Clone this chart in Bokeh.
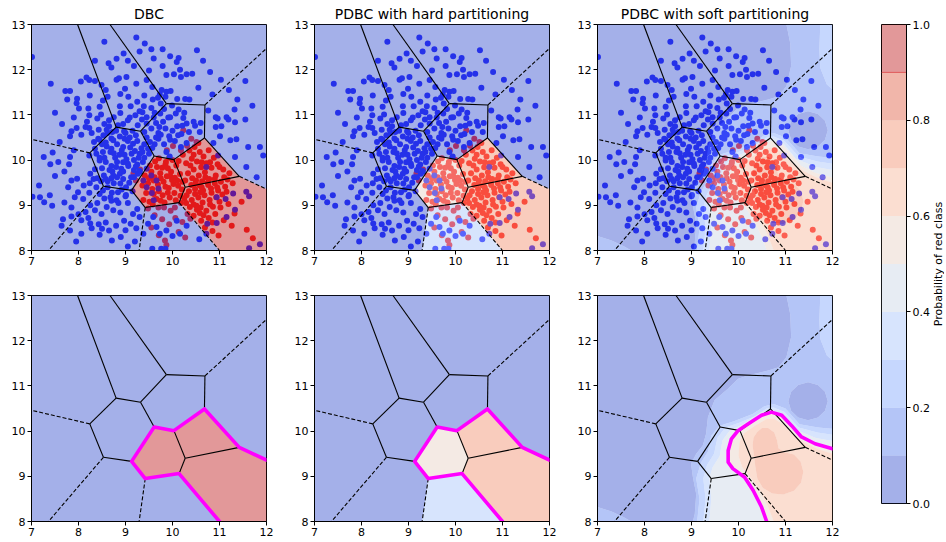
import math
from bokeh.plotting import figure
from bokeh.layouts import row, column
from bokeh.models import FixedTicker, Range1d, NumeralTickFormatter
from bokeh.core.properties import value
from bokeh.embed import file_html
from bokeh.resources import INLINE

# ------------------------------------------------------------------ data
titles = ["DBC", "PDBC with hard partitioning", "PDBC with soft partitioning"]
x_ticks = [7, 8, 9, 10, 11, 12]
y_ticks = [8, 9, 10, 11, 12, 13]
cb_ticks = [0.0, 0.2, 0.4, 0.6, 0.8, 1.0]
levels = [0.0, 0.1, 0.2, 0.3, 0.4, 0.5, 0.6, 0.7, 0.8, 0.9, 1.0]
band_colors = ["#4962d3", "#6a8cf0", "#8db0fe", "#b0cafc", "#cfd9e8",
               "#e9d5ca", "#f7bda3", "#f49a7b", "#e46d56", "#c53133"]
cb_label = "Probability of red class"

# Voronoi vertices (and where edges meet the plot border)
vert_names = ["V1", "V2", "V3", "V4", "V5", "V6", "V7", "V8", "V9", "V10", "V11", "V12", "V13", "V14",
              "T1", "T2", "R1", "R2", "L1", "B1", "B2", "B3", "TL", "TR", "BR", "BL"]
vert_x = [8.80, 9.32, 9.87, 10.69, 10.68, 10.03, 9.61, 8.24, 8.53, 9.13, 9.42, 10.14, 10.27, 11.42,
          7.98, 8.67, 12.0, 12.0, 7.0, 7.36, 9.29, 11.0, 7.0, 12.0, 12.0, 7.0]
vert_y = [10.73, 10.64, 11.25, 11.22, 10.49, 10.01, 10.09, 10.16, 9.42, 9.33, 8.95, 9.06, 9.40, 9.64,
          13.0, 13.0, 12.47, 9.36, 10.46, 8.0, 8.0, 8.0, 13.0, 13.0, 8.0, 8.0]

edges_solid = [("T1", "V1"), ("T2", "V3"), ("V1", "V2"), ("V2", "V3"), ("V3", "V4"), ("V4", "V5"),
               ("V2", "V7"), ("V1", "V8"), ("V8", "V9"), ("V9", "V10"), ("V10", "V7"), ("V10", "V11"),
               ("V11", "V12"), ("V12", "V13"), ("V13", "V6"), ("V6", "V7"), ("V6", "V5"),
               ("V5", "V14"), ("V13", "V14")]
edges_dashed = [("V4", "R1"), ("V8", "L1"), ("V9", "B1"), ("V11", "B2"), ("V12", "B3"), ("V14", "R2")]

cells = [["TL", "T1", "V1", "V8", "L1"],
         ["T1", "T2", "V3", "V2", "V1"],
         ["T2", "TR", "R1", "V4", "V3"],
         ["V4", "R1", "R2", "V14", "V5"],
         ["V3", "V4", "V5", "V6", "V7", "V2"],
         ["V1", "V2", "V7", "V10", "V9", "V8"],
         ["L1", "V8", "V9", "B1", "BL"],
         ["V9", "V10", "V11", "B2", "B1"],
         ["V11", "V12", "B3", "B2"],
         ["V7", "V6", "V13", "V12", "V11", "V10"],
         ["V6", "V5", "V14", "V13"],
         ["V13", "V14", "R2", "BR", "B3", "V12"]]
prob_dbc = [0.0, 0.0, 0.0, 0.0, 0.0, 0.0, 0.0, 0.0, 0.0, 1.0, 1.0, 1.0]
prob_hard = [0.05, 0.05, 0.05, 0.05, 0.05, 0.05, 0.05, 0.05, 0.35, 0.55, 0.75, 0.75]
boundary_path = ["R2", "V14", "V5", "V6", "V7", "V10", "V11", "V12", "B3"]

# soft partitioning: regions where probability >= level
plot_rect = [(7.0, 8.0), (12.0, 8.0), (12.0, 13.0), (7.0, 13.0)]
soft_r1_main = [(9.03, 8.0), (9.07, 8.17), (9.10, 8.61), (9.03, 8.98), (8.99, 9.28), (9.10, 9.50),
                (9.24, 9.68), (9.31, 9.94), (9.35, 10.31), (9.49, 10.68), (9.78, 10.94), (9.99, 11.16),
                (10.20, 11.23), (10.63, 11.34), (10.85, 11.41), (11.02, 11.64), (11.12, 12.08),
                (11.10, 12.59), (11.02, 13.0), (12.0, 13.0), (12.0, 8.0)]
soft_r1_corner = [(7.0, 8.0), (7.0, 8.32), (7.30, 8.22), (7.55, 8.10), (7.72, 8.0)]
soft_r1_hole = [(11.90, 10.66), (11.84, 10.87), (11.69, 11.02), (11.48, 11.08), (11.27, 11.02),
                (11.12, 10.87), (11.06, 10.66), (11.12, 10.45), (11.27, 10.30), (11.48, 10.24),
                (11.69, 10.30), (11.84, 10.45)]
soft_r2_top = [(11.74, 13.0), (11.72, 12.45), (11.74, 12.04), (11.88, 11.67), (12.0, 11.56), (12.0, 13.0)]
soft_r2_low = [(9.12, 8.0), (9.17, 8.5), (9.10, 8.95), (9.20, 9.30), (9.35, 9.55), (9.42, 9.90),
               (9.60, 10.12), (9.90, 10.22), (10.30, 10.38), (10.55, 10.55), (10.75, 10.60),
               (11.00, 10.50), (11.30, 10.15), (11.70, 10.08), (12.0, 10.05), (12.0, 8.0)]
soft_r3 = [(9.25, 8.0), (9.30, 8.5), (9.25, 8.95), (9.33, 9.25), (9.48, 9.50), (9.55, 9.85),
           (9.72, 10.08), (10.00, 10.18), (10.35, 10.33), (10.60, 10.50), (10.75, 10.52),
           (10.98, 10.42), (11.28, 10.08), (11.68, 9.97), (12.0, 9.92), (12.0, 8.0)]
soft_r4 = [(9.38, 8.0), (9.42, 8.5), (9.38, 8.95), (9.45, 9.20), (9.60, 9.45), (9.66, 9.80),
           (9.82, 10.02), (10.10, 10.15), (10.45, 10.40), (10.70, 10.48), (10.95, 10.38),
           (11.22, 10.03), (11.65, 9.85), (12.0, 9.78), (12.0, 8.0)]
soft_r5 = [(10.60, 8.0), (10.49, 8.32), (10.31, 8.69), (10.13, 8.98), (9.88, 9.17), (9.78, 9.31),
           (9.78, 9.57), (9.85, 9.83), (9.99, 10.01), (10.21, 10.16), (10.49, 10.35), (10.70, 10.42),
           (10.92, 10.35), (11.13, 10.12), (11.34, 9.87), (11.63, 9.72), (12.0, 9.61), (12.0, 8.0)]
soft_r6 = [(10.75, 8.0), (10.62, 8.35), (10.45, 8.70), (10.25, 8.98), (10.08, 9.20), (10.00, 9.45),
           (10.02, 9.75), (10.12, 9.95), (10.35, 10.12), (10.60, 10.27), (10.75, 10.28),
           (10.95, 10.15), (11.15, 9.93), (11.40, 9.75), (11.70, 9.60), (12.0, 9.50), (12.0, 8.0)]
soft_r7 = [(10.40, 9.98), (10.50, 10.07), (10.63, 10.07), (10.76, 9.97), (10.82, 9.80), (10.85, 9.62),
           (10.98, 9.53), (11.18, 9.48), (11.32, 9.33), (11.38, 9.10), (11.33, 8.86), (11.18, 8.68),
           (10.95, 8.60), (10.72, 8.62), (10.52, 8.74), (10.40, 8.95), (10.36, 9.20), (10.33, 9.45),
           (10.30, 9.68), (10.32, 9.86)]

# training points: blue class
blue_x = [7.01, 9.23, 9.41, 8.55, 9.55, 9.79, 10.52, 8.96, 8.81, 10.13, 10.09, 8.64, 9.18, 9.79, 10.16,
          9.50, 9.87, 10.03, 10.30, 10.42, 10.18, 11.03, 11.55, 8.86, 8.81, 9.02, 8.17, 8.05, 8.23, 8.35,
          7.41, 7.72, 7.82, 8.49, 8.58, 8.99, 9.23, 9.45, 9.57, 9.77, 9.87, 9.96, 9.73, 9.40, 8.89,
          9.06, 8.62, 8.24, 7.97, 7.76, 7.96, 8.01, 8.21, 8.45, 8.52, 8.88, 9.11, 9.25, 9.39, 9.58,
          9.69, 10.10, 10.27, 10.36, 9.99, 10.13, 9.82, 9.74, 9.60, 9.36, 9.21, 9.09, 8.89, 8.65, 8.48,
          8.40, 8.23, 8.18, 7.90, 8.15, 7.96, 7.85, 7.82, 8.06, 8.23, 8.28, 8.43, 8.60, 8.65, 8.84,
          8.97, 9.05, 9.26, 9.45, 9.65, 9.72, 9.91, 10.07, 10.23, 10.30, 10.21, 10.48, 10.60, 10.58,
          10.76, 10.92, 10.96, 11.15, 11.04, 11.33, 11.38, 11.32, 11.19, 11.36, 11.01, 11.23, 10.92,
          7.45, 7.90, 7.82, 7.40, 7.57, 7.80, 8.23, 8.33, 8.42, 8.53, 8.58, 8.72, 8.74, 8.82, 8.95,
          8.98, 9.09, 9.16, 9.34, 9.45, 9.52, 9.57, 9.70, 9.75, 9.82, 9.93, 10.05, 10.19, 10.30, 10.18,
          9.87, 9.94, 9.50, 9.30, 9.13, 8.87, 8.68, 8.52, 8.38, 8.45, 8.58, 8.70, 8.82, 8.91, 9.06,
          9.22, 9.37, 9.45, 9.30, 9.12, 8.88, 8.74, 8.54, 8.48, 8.62, 8.75, 8.89, 9.01, 9.15, 9.01,
          8.84, 8.71, 8.52, 8.38, 8.24, 8.11, 7.97, 7.78, 7.85, 7.99, 8.23, 8.10, 7.92, 7.70, 7.44,
          7.39, 7.16, 7.18, 7.67, 8.06, 8.21, 8.28, 8.06, 7.82, 7.64, 8.43, 8.58, 8.65, 8.45, 8.71,
          9.05, 9.23, 9.38, 9.48, 9.59, 9.66, 9.73, 9.87, 10.00, 10.16, 10.09, 10.30, 10.57, 10.72,
          9.57, 9.76, 9.85, 9.16, 8.89, 8.74, 8.60, 8.49, 8.35, 8.81, 8.97, 9.11, 9.30, 7.02, 7.26, 7.27,
          11.57, 11.93, 11.79, 11.33, 11.86, 10.87, 11.61,
          9.55, 9.66, 9.45, 9.56, 9.70, 9.38, 9.30, 9.60, 10.94, 11.13, 11.29, 11.57, 11.63, 11.33,
          11.15, 10.94, 10.74, 11.63, 11.86, 10.97, 10.72,
          8.60, 8.70, 8.78, 8.92, 9.02, 9.10, 9.20, 9.28, 9.05, 8.95, 8.80, 8.66, 8.58, 8.70, 8.95,
          9.18, 9.25, 9.40, 9.48, 9.62, 9.70, 9.85, 10.00, 10.10, 9.55, 9.40, 9.25, 9.05, 8.88, 8.70,
          9.95, 10.12, 10.35, 10.45, 10.25, 9.95, 9.80, 9.62, 9.45, 9.30, 8.50, 8.45, 8.35, 8.25, 8.40,
          9.18, 9.00, 8.85, 8.70, 8.55, 8.40, 8.25, 8.15, 8.00, 7.85,
          8.35, 8.70, 9.05, 9.30, 9.60, 9.95, 10.65, 10.80, 10.55, 10.85, 11.20, 11.70, 11.55, 7.50,
          7.65, 7.60, 7.50, 7.70, 7.85, 7.95, 8.90, 9.20,
          8.55, 8.75, 8.95, 9.15, 9.35, 9.55, 9.75, 9.85, 9.65, 9.40, 9.22, 9.00, 8.80, 8.62, 8.45,
          8.35, 8.55, 8.75, 8.98, 9.18, 9.36, 8.95, 8.72, 8.50, 8.32, 8.62, 8.82, 9.08, 9.26, 8.92,
          8.68, 8.45, 9.05, 9.25, 8.25, 8.50, 8.80, 9.00]
blue_y = [12.28, 12.71, 12.58, 12.62, 12.45, 12.45, 12.43, 12.36, 12.24, 12.26, 12.17, 12.14, 12.08, 12.08, 12.00,
          11.98, 11.88, 11.90, 11.90, 11.91, 11.84, 11.78, 11.75, 11.81, 11.78, 11.84, 11.83, 11.74, 11.77, 11.75,
          11.69, 11.53, 11.53, 11.66, 11.55, 11.58, 11.69, 11.77, 11.62, 11.55, 11.51, 11.53, 11.45, 11.43, 11.46,
          11.40, 11.40, 11.43, 11.36, 11.34, 11.26, 11.14, 11.14, 11.18, 11.32, 11.19, 11.19, 11.29, 11.19, 11.34,
          11.38, 11.35, 11.35, 11.34, 11.21, 11.12, 11.13, 11.03, 10.94, 11.06, 10.99, 10.94, 11.04, 10.88, 11.01,
          10.92, 10.99, 10.85, 10.94, 10.73, 10.71, 10.64, 10.53, 10.56, 10.71, 10.60, 10.67, 10.67, 10.75, 10.77,
          10.64, 10.88, 10.77, 10.81, 10.82, 10.73, 10.94, 11.03, 10.93, 10.81, 10.76, 10.76, 10.82, 10.62,
          11.10, 10.95, 10.92, 10.95, 10.75, 10.84, 11.34, 11.12, 10.90, 10.46, 10.53, 10.44, 10.73,
          10.17, 10.22, 10.07, 9.91, 9.96, 9.91, 10.10, 10.40, 10.47, 10.55, 10.39, 10.62, 10.44, 10.35, 10.29,
          10.47, 10.50, 10.36, 10.26, 10.50, 10.40, 10.27, 10.47, 10.56, 10.35, 10.53, 10.42, 10.58, 10.38, 10.29,
          10.18, 10.08, 10.14, 10.14, 10.14, 10.12, 10.18, 10.18, 10.14, 9.99, 9.96, 9.87, 9.96, 9.81, 9.87,
          9.86, 9.96, 9.81, 9.74, 9.62, 9.70, 9.66, 9.66, 9.53, 9.53, 9.49, 9.48, 9.40, 9.31, 9.23,
          9.29, 9.28, 9.33, 9.40, 9.49, 9.44, 9.59, 9.40, 9.55, 9.29, 9.28, 9.14, 9.18, 9.06, 8.99,
          9.22, 9.44, 9.18, 8.69, 8.67, 8.72, 8.49, 8.37, 8.44, 8.55, 8.58, 8.62, 8.44, 8.35, 8.22,
          8.09, 8.49, 8.37, 8.59, 8.74, 8.52, 8.37, 8.44, 8.32, 8.37, 8.66, 8.55, 8.25, 8.37,
          8.04, 8.04, 8.04, 8.81, 8.84, 8.89, 8.96, 8.81, 8.89, 9.11, 8.66, 8.59, 8.74, 9.19, 10.07, 9.07,
          9.85, 10.10, 9.62, 10.07, 10.29, 10.38, 10.29,
          9.66, 9.55, 9.40, 9.27, 9.37, 9.55, 9.76, 9.11, 9.18, 9.14, 9.26, 9.30, 9.20, 8.90,
          8.74, 8.61, 8.59, 8.05, 8.14, 10.10, 9.85,
          10.30, 10.25, 10.05, 10.22, 10.02, 10.28, 10.20, 10.05, 9.92, 9.75, 9.85, 9.78, 9.58, 9.60, 9.58,
          9.78, 9.90, 10.05, 10.25, 10.35, 10.60, 10.70, 10.65, 10.75, 10.70, 10.62, 10.42, 10.42, 10.52, 10.48,
          10.45, 10.55, 10.62, 10.85, 11.05, 10.95, 10.85, 11.05, 10.95, 11.08, 10.35, 10.05, 9.80, 9.70, 9.60,
          9.62, 9.20, 9.05, 9.10, 9.15, 9.05, 9.00, 8.85, 8.80, 8.75,
          12.20, 12.05, 12.20, 12.40, 12.25, 12.30, 12.20, 11.95, 11.60, 11.45, 11.55, 11.20, 10.90, 11.05,
          10.80, 10.40, 9.65, 9.75, 8.95, 8.20, 8.30, 8.20,
          10.80, 10.95, 10.80, 10.65, 10.90, 11.15, 11.25, 11.40, 10.50, 10.35, 10.55, 10.60, 10.65, 10.60, 10.45,
          10.25, 10.05, 10.15, 10.12, 10.00, 10.18, 9.95, 9.75, 9.82, 9.58, 9.40, 9.62, 9.50, 9.70, 9.35,
          9.18, 9.25, 9.05, 8.92, 8.60, 8.48, 8.55, 8.45]

# training points: red class
red_x = [9.52, 9.63, 9.71, 9.78, 9.86, 9.93, 9.97, 10.08, 10.16, 10.21, 10.12, 9.99, 9.88, 9.74, 9.62,
         9.48, 9.57, 9.69, 9.81, 9.92, 10.04, 10.17, 9.94, 9.79, 9.66, 9.51, 9.44, 9.36, 9.58, 9.83,
         10.07, 9.71, 9.85, 10.02, 9.55, 9.41, 9.67, 9.90, 10.05, 10.13,
         10.22, 10.36, 10.47, 10.58, 10.41, 10.29, 10.52, 10.66, 10.77, 10.88, 10.72, 10.61, 10.45, 10.33,
         10.27, 10.42, 10.56, 10.69, 10.83, 10.96, 11.08, 11.21, 10.92, 10.78, 10.63, 10.49, 10.38, 10.55,
         10.31, 10.18,
         10.35, 10.48, 10.62, 10.76, 10.90, 11.03, 11.17, 11.28, 11.12, 10.97, 10.83, 10.68, 10.55, 10.41,
         10.29, 10.37, 10.51, 10.64, 10.79, 10.93, 11.06, 10.86, 10.72, 10.58, 10.45, 10.61, 10.77, 10.91,
         11.02, 11.19, 10.69, 10.85, 11.32, 11.47, 11.09, 10.98, 11.26, 11.58, 11.71, 10.82, 10.59,
         9.62, 9.78, 9.93, 10.06, 10.21, 9.71, 9.84, 10.13, 10.27, 9.55, 9.96, 10.32, 9.87, 9.48,
         9.31, 9.22, 9.17, 10.23, 10.40, 10.51, 9.88, 10.01, 9.38,
         9.60, 9.75, 9.95, 10.10, 10.20, 9.90, 9.75, 9.60, 9.50, 9.85, 10.00, 10.45, 10.62, 10.80,
         11.00, 10.50, 10.70, 10.90, 11.10, 10.40, 10.58, 10.75, 10.25, 10.45, 10.60, 10.80, 11.00,
         10.52, 10.66, 10.85, 10.30, 10.95, 11.15, 10.48, 10.65, 10.38, 10.18, 10.05, 9.82, 9.70]
red_y = [9.88, 9.97, 10.04, 9.83, 9.96, 10.05, 9.74, 9.88, 9.69, 9.52, 9.43, 9.56, 9.64, 9.71, 9.62,
         9.49, 9.36, 9.46, 9.52, 9.38, 9.27, 9.21, 9.17, 9.22, 9.14, 9.08, 9.27, 9.44, 9.02, 9.06,
         9.11, 9.31, 9.41, 9.47, 9.74, 9.66, 9.85, 9.82, 9.61, 9.98,
         10.12, 10.21, 10.29, 10.18, 10.03, 9.93, 9.97, 10.08, 10.22, 10.05, 9.93, 9.84, 9.79, 9.71,
         9.55, 9.60, 9.66, 9.73, 9.83, 9.91, 9.79, 9.71, 9.66, 9.58, 9.53, 9.48, 9.88, 10.38,
         10.32, 10.22,
         9.31, 9.36, 9.40, 9.45, 9.49, 9.52, 9.57, 9.49, 9.41, 9.33, 9.28, 9.22, 9.17, 9.12,
         9.05, 8.96, 8.99, 9.06, 9.12, 9.18, 9.24, 8.97, 8.88, 8.83, 8.77, 8.66, 8.72, 8.81,
         8.95, 9.03, 8.51, 8.43, 8.82, 9.08, 8.67, 8.33, 8.55, 8.46, 8.27, 9.37, 9.29,
         8.78, 8.69, 8.58, 8.72, 8.63, 8.34, 8.22, 8.41, 8.29, 8.51, 8.88, 8.81, 8.12, 8.93,
         9.79, 9.55, 9.71, 10.66, 10.47, 10.40, 10.22, 10.31, 9.12,
         9.55, 9.60, 9.65, 9.55, 9.35, 9.28, 9.10, 9.25, 9.60, 9.90, 10.00, 10.12, 9.95, 9.95,
         9.85, 9.55, 9.62, 9.58, 9.62, 9.45, 9.44, 9.50, 9.15, 9.02, 8.95, 9.02, 9.08,
         8.90, 8.78, 8.62, 9.22, 9.40, 9.30, 9.25, 9.33, 8.70, 9.05, 8.95, 8.95, 8.95]


# ------------------------------------------------------------------ helpers
VX = dict(zip(vert_names, vert_x))
VY = dict(zip(vert_names, vert_y))
FONT = "DejaVu Sans"


def band_of(p):
    return min(int(p * 10 + 1e-9), 9)


def ring(pts, ccw=True):
    xs = [q[0] for q in pts]
    ys = [q[1] for q in pts]
    n = len(xs)
    a = sum(xs[i] * ys[(i + 1) % n] - xs[(i + 1) % n] * ys[i] for i in range(n))
    if (a > 0) != ccw:
        xs, ys = xs[::-1], ys[::-1]
    return xs, ys


def poly(ext, holes=()):
    ex, ey = ring(ext, True)
    X, Y = [ex], [ey]
    for h in holes:
        hx, hy = ring(h, False)
        X.append(hx)
        Y.append(hy)
    return X, Y


soft_bands = {
    0: [poly(plot_rect, [soft_r1_main, soft_r1_corner]), poly(soft_r1_hole)],
    1: [poly(soft_r1_main, [soft_r2_top, soft_r2_low, soft_r1_hole]), poly(soft_r1_corner)],
    2: [poly(soft_r2_top), poly(soft_r2_low, [soft_r3])],
    3: [poly(soft_r3, [soft_r4])],
    4: [poly(soft_r4, [soft_r5])],
    5: [poly(soft_r5, [soft_r6])],
    6: [poly(soft_r6, [soft_r7])],
    7: [poly(soft_r7)],
}


def style_axis(ax, ticks):
    ax.ticker = FixedTicker(ticks=ticks)
    ax.minor_tick_line_color = None
    ax.major_tick_in = 0
    ax.major_tick_out = 4
    ax.major_label_standoff = 2
    ax.major_label_text_font_size = "11px"
    ax.major_label_text_font = FONT
    ax.major_label_text_color = "black"
    ax.axis_line_color = "black"
    ax.major_tick_line_color = "black"


FIG_W = [283, 283, 282]


def make_panel(col, top_row):
    kw = dict(width=FIG_W[col], height=272 if top_row else 268,
              x_range=Range1d(7, 12), y_range=Range1d(8, 13),
              output_backend="svg", toolbar_location=None,
              min_border_left=31, min_border_right=FIG_W[col] - 31 - 235,
              min_border_top=24 if top_row else 23,
              min_border_bottom=22 if top_row else 19)
    if top_row:
        kw["title"] = titles[col]
    p = figure(**kw)
    if top_row:
        p.title.align = "center"
        p.title.text_font_size = "14px"
        p.title.text_font_style = "normal"
        p.title.text_font = FONT
        p.title.text_color = "black"
        p.title.standoff = 6
    p.xgrid.visible = False
    p.ygrid.visible = False
    p.outline_line_color = "black"
    p.outline_line_alpha = 1.0
    p.background_fill_color = "white"
    p.border_fill_color = "white"
    style_axis(p.xaxis[0], x_ticks)
    style_axis(p.yaxis[0], y_ticks)
    if top_row:
        p.scatter(red_x, red_y, size=6, fill_color="#ff0000", line_color=None)
        p.scatter(blue_x, blue_y, size=6, fill_color="#0000ff", line_color=None)
    # probability overlay
    if col < 2:
        probs = prob_dbc if col == 0 else prob_hard
        xs = [[VX[k] for k in c] for c in cells]
        ys = [[VY[k] for k in c] for c in cells]
        cols = [band_colors[band_of(v)] for v in probs]
        p.patches(xs, ys, fill_color=cols, fill_alpha=0.5, line_color=None)
    else:
        gx, gy, gc = [], [], []
        for b, polys in soft_bands.items():
            gx.append([pp[0] for pp in polys])
            gy.append([pp[1] for pp in polys])
            gc.append(band_colors[b])
        p.multi_polygons(xs=gx, ys=gy, fill_color=gc, fill_alpha=0.5, line_color=None)
    # Voronoi partition
    p.segment([VX[a] for a, b in edges_solid], [VY[a] for a, b in edges_solid],
              [VX[b] for a, b in edges_solid], [VY[b] for a, b in edges_solid],
              line_color="black", line_width=1.1)
    p.segment([VX[a] for a, b in edges_dashed], [VY[a] for a, b in edges_dashed],
              [VX[b] for a, b in edges_dashed], [VY[b] for a, b in edges_dashed],
              line_color="black", line_width=1.1, line_dash="4 2")
    # decision boundary (bottom row)
    if not top_row:
        if col < 2:
            bx = [VX[k] for k in boundary_path]
            by = [VY[k] for k in boundary_path]
        else:
            bx = [q[0] for q in soft_r5[:-1]]
            by = [q[1] for q in soft_r5[:-1]]
        p.line(bx, by, line_color="#ff00ff", line_width=3.6, line_join="round", line_cap="round")
    return p


top = [make_panel(c, True) for c in range(3)]
bottom = [make_panel(c, False) for c in range(3)]

# colour bar
cb = figure(width=84, height=540, x_range=Range1d(0, 1), y_range=Range1d(0, 1),
            output_backend="svg", toolbar_location=None,
            y_axis_location="right", x_axis_location=None,
            min_border_left=33, min_border_right=26, min_border_top=24, min_border_bottom=37)
cb.xgrid.visible = False
cb.ygrid.visible = False
cb.outline_line_color = "black"
cb.outline_line_alpha = 1.0
cb.background_fill_color = "white"
cb.quad(left=0, right=1, bottom=levels[:-1], top=levels[1:],
        fill_color=band_colors, fill_alpha=0.5, line_color=None)
cb.line([0, 1], [levels[9], levels[9]], line_color="#e05a5a", line_width=1)
ay = cb.yaxis[0]
style_axis(ay, cb_ticks)
ay.formatter = NumeralTickFormatter(format="0.0")

# colour-bar label (own narrow figure so the rotated text is never clipped)
lab = figure(width=12, height=540, x_range=Range1d(0, 1), y_range=Range1d(0, 1),
             output_backend="svg", toolbar_location=None,
             x_axis_location=None, y_axis_location=None, min_border=0)
lab.xgrid.visible = False
lab.ygrid.visible = False
lab.outline_line_color = None
lab.text(x=[0.5], y=[0.5], text=[cb_label], angle=math.pi / 2,
         text_align="center", text_baseline="middle", text_font_size="11px",
         text_font=value(FONT), text_color="black")

layout = row(column(row(*top), row(*bottom)), cb, lab)
open("out.html", "w").write(file_html(layout, INLINE))
